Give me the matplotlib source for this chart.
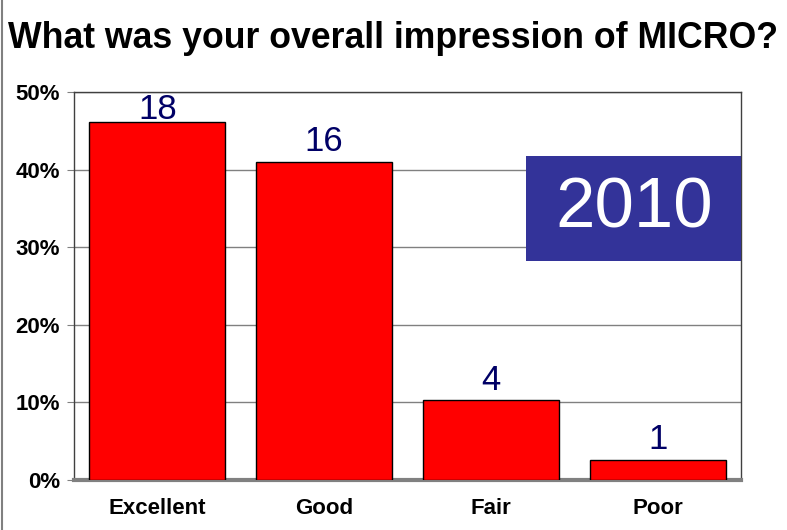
import matplotlib.pyplot as plt
from matplotlib.lines import Line2D
from matplotlib.patches import Rectangle

plt.rcParams["font.family"] = ["Liberation Sans", "DejaVu Sans"]

# survey answers (counts) and share of responses
categories = ["Excellent", "Good", "Fair", "Poor"]
counts = [18, 16, 4, 1]
total = sum(counts)
shares = [c / total for c in counts]
yticks = [0, 0.1, 0.2, 0.3, 0.4, 0.5]
ytick_labels = ["0%", "10%", "20%", "30%", "40%", "50%"]

fig = plt.figure(figsize=(7.87, 5.30), dpi=100)
ax = fig.add_axes([0.094, 0.0943, 0.8475, 0.7321])

x = range(len(categories))
ax.bar(x, shares, width=0.816, color="#ff0000", edgecolor="black", linewidth=1, zorder=3)

ax.set_xlim(-0.5, len(categories) - 0.5)
ax.set_ylim(0, 0.5)
ax.set_yticks(yticks)
ax.set_yticklabels(ytick_labels, fontsize=16, fontweight="bold")
ax.set_xticks(list(x))
ax.set_xticklabels(categories, fontsize=16, fontweight="bold")
ax.tick_params(axis="x", length=0, pad=13)
ax.tick_params(axis="y", length=5, color="#808080", pad=5)
ax.grid(axis="y", color="#808080", linewidth=1, zorder=0)

for s in ["top", "right", "left"]:
    ax.spines[s].set_color("#404040")
    ax.spines[s].set_linewidth(1)
ax.spines["bottom"].set_color("#808080")
ax.spines["bottom"].set_linewidth(3)

# count labels above bars (pushed down if they would leave the plot)
for i, (c, s) in enumerate(zip(counts, shares)):
    ypos = min(s + 0.026, 0.477)
    ax.text(i, ypos, str(c), ha="center", va="center", fontsize=25, color="#000066", zorder=4)

# year badge
fig.patches.append(Rectangle((526 / 787, 1 - 261 / 530), 215 / 787, 105 / 530,
                             transform=fig.transFigure, facecolor="#333399",
                             edgecolor="none", zorder=5))
fig.text(634 / 787, 1 - 210 / 530, "2010", ha="center", va="center",
         fontsize=51, color="white", zorder=6)

fig.text(8 / 787, 1 - 38 / 530, "What was your overall impression of MICRO?",
         ha="left", va="center", fontsize=25.7, fontweight="bold")

# slide frame edge on the left
fig.lines.append(Line2D([2 / 787, 2 / 787], [0, 1], transform=fig.transFigure,
                        color="#808080", linewidth=1.5))

fig.savefig("out.png", dpi=100)
